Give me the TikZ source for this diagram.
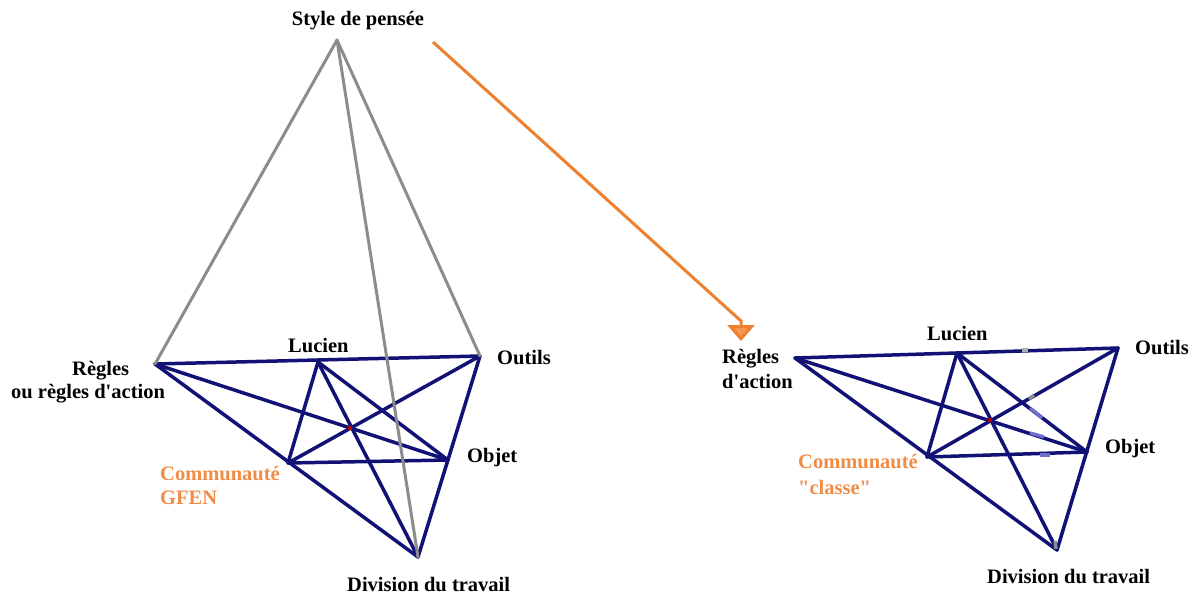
\documentclass[tikz,border=0pt]{standalone}
\usepackage{fontspec}
\setmainfont{Liberation Serif}[Ligatures=TeXOff]
\usetikzlibrary{arrows.meta}
\definecolor{navy}{RGB}{18,18,118}
\definecolor{ggrey}{RGB}{140,140,140}
\definecolor{orng}{RGB}{238,128,48}
\definecolor{orngfill}{RGB}{246,150,80}
\definecolor{orngtxt}{RGB}{240,140,70}
\definecolor{smudge}{RGB}{110,110,200}
\begin{document}
\begin{tikzpicture}[x=1pt,y=-1pt,
  lbl/.style={font=\bfseries\fontsize{20.5}{24}\selectfont, inner sep=0pt, anchor=base west, text=black},
  olbl/.style={lbl, text=orngtxt},
  bedge/.style={draw=navy, line width=3.5pt, line cap=round},
  gedge/.style={draw=ggrey, line width=3pt, line cap=round},
  oarrow/.style={draw=orng, line width=3pt, -{Triangle[length=16pt,width=27pt,fill=orngfill]}},
  dot/.style={fill=red!70!black, minimum size=4pt, inner sep=0pt},
  smark/.style={line width=3.5pt}]
\useasboundingbox (0,0) rectangle (1201,594);
\fill[white] (0,0) rectangle (1201,594);

% ---------- left figure ----------
\coordinate (A)  at (337,40);
\coordinate (R1) at (155,364);
\coordinate (L1) at (318,362);
\coordinate (O1) at (480,356);
\coordinate (B1) at (448,460);
\coordinate (C1) at (288,463);
\coordinate (D1) at (418,557);

\draw[bedge] (R1) -- (O1);
\draw[bedge] (O1) -- (D1);
\draw[bedge] (D1) -- (R1);
\draw[bedge] (L1) -- (C1);
\draw[bedge] (L1) -- (B1);
\draw[bedge] (L1) -- (D1);
\draw[bedge] (R1) -- (B1);
\draw[bedge] (O1) -- (C1);
\draw[bedge] (C1) -- (B1);

\draw[gedge] (A) -- (R1);
\draw[gedge] (A) -- (O1);
\draw[gedge] (A) -- (D1);

\node[dot] (X1) at (350,428) {};

\node[lbl, anchor=base] (tStyle) at (358,26) {Style de pensée};
\node[lbl] (tRegA1) at (72,375) {Règles};
\node[lbl] (tRegB1) at (11,398) {ou règles d'action};
\node[lbl] (tLuc1) at (288,352) {Lucien};
\node[lbl] (tOut1) at (497,364) {Outils};
\node[lbl] (tObj1) at (467,462) {Objet};
\node[olbl] (tComA1) at (160,480) {Communauté};
\node[olbl] (tComB1) at (160,504) {GFEN};
\node[lbl] (tDiv1) at (347,591) {Division du travail};

% ---------- arrow ----------
\coordinate (arrS) at (433,42);
\coordinate (arrM) at (741,321);
\coordinate (arrE) at (741,341);
\draw[oarrow] (arrS) -- (arrM) -- (arrE);

% ---------- right figure ----------
\coordinate (R2) at (795,358);
\coordinate (L2) at (957,353);
\coordinate (O2) at (1118,348);
\coordinate (B2) at (1087,452);
\coordinate (C2) at (927,457);
\coordinate (D2) at (1057,550);

\draw[bedge] (R2) -- (O2);
\draw[bedge] (O2) -- (D2);
\draw[bedge] (D2) -- (R2);
\draw[bedge] (L2) -- (C2);
\draw[bedge] (L2) -- (B2);
\draw[bedge] (L2) -- (D2);
\draw[bedge] (R2) -- (B2);
\draw[bedge] (O2) -- (C2);
\draw[bedge] (C2) -- (B2);

% small light marks on the right figure
\draw[smark, draw=ggrey!70] (1022,350) -- (1028,350);
\draw[smark, draw=ggrey] (1029,399) -- (1034,395);
\draw[smark, draw=smudge] (1030,408) -- (1042,418);
\draw[smark, draw=smudge] (1030,433) -- (1044,437);
\draw[smark, draw=smudge] (1040,455) -- (1050,455);
\draw[smark, draw=ggrey] (1055,541) -- (1056,549);

\node[dot] (X2) at (990,420) {};

\node[lbl] (tReg2) at (722,363) {Règles};
\node[lbl] (tAct2) at (722,388) {d'action};
\node[lbl] (tLuc2) at (927,340) {Lucien};
\node[lbl] (tOut2) at (1135,354) {Outils};
\node[lbl] (tObj2) at (1105,453) {Objet};
\node[olbl] (tComA2) at (798,468) {Communauté};
\node[olbl] (tComB2) at (798,494) {"classe"};
\node[lbl] (tDiv2) at (987,583) {Division du travail};
\end{tikzpicture}
\end{document}
